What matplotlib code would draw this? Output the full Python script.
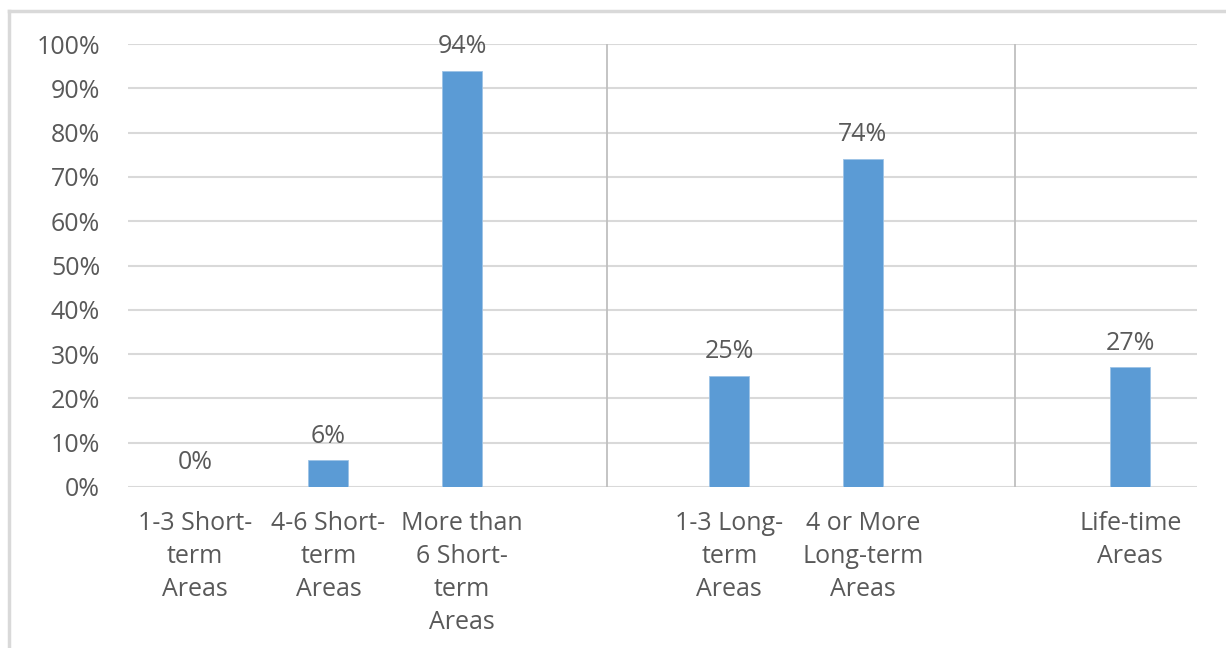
import numpy as np
import matplotlib
matplotlib.use("Agg")
import matplotlib.pyplot as plt

# Share of respondents by number of areas (empty strings are spacer slots between groups)
categories = [
    "1-3 Short-\nterm\nAreas",
    "4-6 Short-\nterm\nAreas",
    "More than\n6 Short-\nterm\nAreas",
    "",
    "1-3 Long-\nterm\nAreas",
    "4 or More\nLong-term\nAreas",
    "",
    "Life-time\nAreas",
]
values = [0, 6, 94, None, 25, 74, None, 27]
y_ticks = list(range(0, 101, 10))
y_tick_labels = [f"{v}%" for v in y_ticks]

plt.rcParams["font.family"] = ["Open Sans", "DejaVu Sans"]
TEXT = "#595959"
BAR = "#5b9bd5"
GRID = "#d9d9d9"
FS = 18

W, H = 1226, 648
fig = plt.figure(figsize=(W / 100, H / 100), dpi=100)
ax = fig.add_axes([128 / W, (H - 487) / H, (1197 - 128) / W, (487 - 44) / H])

x = np.arange(len(categories))
for xi, v in zip(x, values):
    if v is None:
        continue
    ax.bar(xi, v, width=0.3, color=BAR, edgecolor="#9dc3e6", linewidth=0.6, zorder=3)
    ax.annotate(f"{v}%", (xi, v), xytext=(0, 8.5), textcoords="offset points",
                ha="center", va="bottom", fontsize=FS, color=TEXT)

ax.set_xlim(-0.5, len(categories) - 0.5)
ax.set_ylim(0, 100)
ax.set_yticks(y_ticks)
ax.set_yticklabels(y_tick_labels)
ax.set_xticks(x)
ax.set_xticklabels(categories, linespacing=1.42)
ax.tick_params(axis="both", length=0, labelsize=FS, labelcolor=TEXT)
ax.tick_params(axis="y", pad=20)
ax.tick_params(axis="x", pad=17)

ax.grid(axis="y", color=GRID, linewidth=1.5, zorder=0)
for s in ax.spines.values():
    s.set_visible(False)

# group separators
for sx in (3.085, 6.138):
    ax.axvline(sx, color="#bfbfbf", linewidth=1.3, zorder=2)

# outer chart frame (top and left edges)
fig.add_artist(plt.Line2D([9 / W, 9 / W], [0, (H - 11) / H], color=GRID, linewidth=2.5,
                          transform=fig.transFigure))
fig.add_artist(plt.Line2D([9 / W, 1], [(H - 11) / H, (H - 11) / H], color=GRID, linewidth=2.5,
                          transform=fig.transFigure))

fig.savefig("out.png", dpi=100, facecolor="white")
